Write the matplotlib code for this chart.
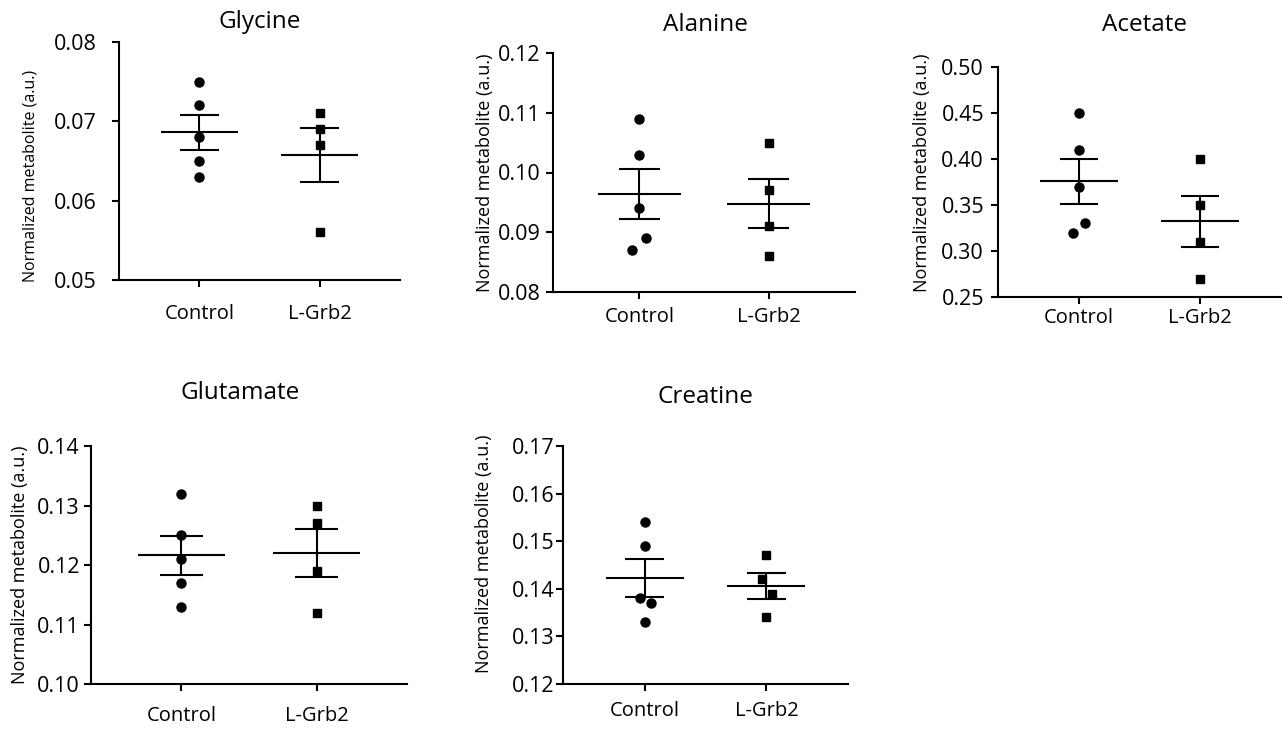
import numpy as np
import matplotlib
matplotlib.use("Agg")
import matplotlib.pyplot as plt

plt.rcParams['font.family'] = ['Open Sans', 'DejaVu Sans']

groups = ["Control", "L-Grb2"]

# values (normalized metabolite, a.u.)
glycine_control = [0.075, 0.072, 0.068, 0.065, 0.063]
glycine_lgrb2 = [0.071, 0.069, 0.067, 0.056]
alanine_control = [0.109, 0.103, 0.094, 0.089, 0.087]
alanine_lgrb2 = [0.105, 0.097, 0.091, 0.086]
acetate_control = [0.45, 0.41, 0.37, 0.33, 0.32]
acetate_lgrb2 = [0.40, 0.35, 0.31, 0.27]
glutamate_control = [0.132, 0.125, 0.121, 0.117, 0.113]
glutamate_lgrb2 = [0.130, 0.127, 0.119, 0.112]
creatine_control = [0.154, 0.149, 0.138, 0.137, 0.133]
creatine_lgrb2 = [0.147, 0.142, 0.139, 0.134]

# small horizontal offsets of overlapping points
glycine_jit = ([0, 0, 0, 0, 0], [0, 0, 0, 0])
alanine_jit = ([0, 0, 0, 0.05, -0.055], [0, 0, 0, 0])
acetate_jit = ([0, 0, 0, 0.05, -0.05], [0, 0, 0, 0])
glutamate_jit = ([0, 0, 0, 0, 0], [0, 0, 0, 0])
creatine_jit = ([0, 0, -0.04, 0.05, 0], [0, -0.04, 0.05, 0])

W, H = 1283, 731
fig = plt.figure(figsize=(W / 100, H / 100), dpi=100)

# name, data, jitter, ylim, ticks, axes box (px: x0, y0, x1, y1), title pos,
# ylabel pos, xtick pad, ytick pad, ylabel size
panels = [
    ("Glycine", (glycine_control, glycine_lgrb2), glycine_jit, (0.05, 0.08),
     [0.05, 0.06, 0.07, 0.08], (119, 42, 400, 280), (260, 22), (-0.285, 0.437), 12, 11, 11.5),
    ("Alanine", (alanine_control, alanine_lgrb2), alanine_jit, (0.08, 0.12),
     [0.08, 0.09, 0.10, 0.11, 0.12], (553, 53, 855, 292), (705, 25), (-0.196, 0.5), 6, 4, 13),
    ("Acetate", (acetate_control, acetate_lgrb2), acetate_jit, (0.25, 0.50),
     [0.25, 0.30, 0.35, 0.40, 0.45, 0.50], (998, 67, 1281, 297), (1145, 25), (-0.235, 0.54), 3, 5, 13),
    ("Glutamate", (glutamate_control, glutamate_lgrb2), glutamate_jit, (0.10, 0.14),
     [0.10, 0.11, 0.12, 0.13, 0.14], (91, 446, 407, 684), (240, 393), (-0.196, 0.5), 11, 3, 13),
    ("Creatine", (creatine_control, creatine_lgrb2), creatine_jit, (0.12, 0.17),
     [0.12, 0.13, 0.14, 0.15, 0.16, 0.17], (563, 446, 848, 684), (705, 397), (-0.245, 0.546), 7, 1, 13),
]

for name, data, jit, ylim, ticks, box, tpos, lpos, xpad, ypad, lsize in panels:
    x0, y0, x1, y1 = box
    ax = fig.add_axes([x0 / W, 1 - y1 / H, (x1 - x0) / W, (y1 - y0) / H])

    for i, (vals, offs, mk) in enumerate(zip(data, jit, ["o", "s"])):
        vals = np.array(vals)
        ax.plot(i + np.array(offs), vals, mk, color="black", markersize=6.5 if mk == "o" else 6,
                linestyle="none", zorder=3)
        m = vals.mean()
        sem = vals.std(ddof=1) / np.sqrt(len(vals))
        ax.hlines(m, i - 0.32, i + 0.32, color="black", lw=1.5)
        ax.hlines([m - sem, m + sem], i - 0.16, i + 0.16, color="black", lw=1.5)
        ax.vlines(i, m - sem, m + sem, color="black", lw=1.5)

    ax.set_xlim(-0.67, 1.67)
    ax.set_ylim(*ylim)
    ax.set_yticks(ticks)
    ax.set_yticklabels(["%.2f" % t for t in ticks])
    ax.set_xticks([0, 1])
    ax.set_xticklabels(groups)
    for s in ["top", "right"]:
        ax.spines[s].set_visible(False)
    for s in ["left", "bottom"]:
        ax.spines[s].set_linewidth(1.5)
    ax.tick_params(axis="y", direction="out", length=5, width=1.5, labelsize=15.5, pad=ypad)
    ax.tick_params(axis="x", direction="out", length=5, width=1.5, labelsize=14.5, pad=xpad)
    ax.set_ylabel("Normalized metabolite (a.u.)", fontsize=lsize)
    ax.yaxis.set_label_coords(*lpos)

    fig.text(tpos[0] / W, 1 - tpos[1] / H, name, ha="center", va="center", fontsize=17.5)

fig.savefig("out.png", dpi=100)
